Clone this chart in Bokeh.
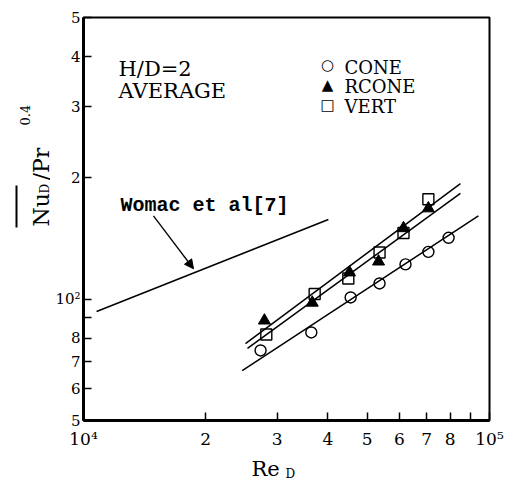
from bokeh.plotting import figure
from bokeh.layouts import row, column
from bokeh.models import Range1d, FixedTicker, Label, Arrow, NormalHead, BoxAnnotation
from bokeh.embed import file_html
from bokeh.resources import INLINE
import math

# ---- data ----
cone_re = [2.73e4, 3.64e4, 4.55e4, 5.36e4, 6.21e4, 7.07e4, 7.93e4]
cone_nu = [74.6, 82.7, 101, 109.4, 122, 131, 142]
rcone_re = [2.79e4, 3.66e4, 4.52e4, 5.33e4, 6.14e4, 7.07e4]
rcone_nu = [88.5, 98, 116.5, 124, 150, 168]
vert_re = [2.82e4, 3.71e4, 4.49e4, 5.36e4, 6.14e4, 7.07e4]
vert_nu = [81.7, 103, 112.5, 130.6, 146, 177]

cone_fit_re = [2.46e4, 9.39e4]
cone_fit_nu = [66.5, 161]
rcone_fit_re = [2.535e4, 8.48e4]
rcone_fit_nu = [75.5, 183]
vert_fit_re = [2.506e4, 8.48e4]
vert_fit_nu = [77.6, 193.6]
womac_re = [1.077e4, 4.01e4]
womac_nu = [93.2, 157.6]
arrow_re = [1.487e4, 1.866e4]
arrow_nu = [161, 119]

x_ticks = [10000, 20000, 30000, 40000, 50000, 60000, 70000, 80000, 90000, 100000]
x_tick_labels = ["10⁴", "2", "3", "4", "5", "6", "7", "8", "", "10⁵"]
y_ticks = [50, 60, 70, 80, 90, 100, 200, 300, 400, 500]
y_tick_labels = ["5", "6", "7", "8", "", "10²", "2", "3", "4", "5"]

SERIF = "DejaVu Serif"
W, H = 510, 481
YW = 50          # width of the y-label strip
XH = 30          # height of the x-label strip
MH = H - XH      # height of main figure

p = figure(width=W - YW, height=MH, x_axis_type="log", y_axis_type="log",
           x_range=Range1d(1e4, 1e5), y_range=Range1d(50, 500),
           output_backend="svg", toolbar_location=None,
           min_border_left=83 - YW, min_border_right=21, min_border_top=17,
           min_border_bottom=MH - 420)
p.xgrid.visible = False
p.ygrid.visible = False
p.outline_line_color = "black"
p.outline_line_width = 2
p.background_fill_color = "white"
p.border_fill_color = "white"

for ax, ticks, labels, standoff, fs in ((p.xaxis[0], x_ticks, x_tick_labels, 8, "17px"),
                                         (p.yaxis[0], y_ticks, y_tick_labels, 3, "15px")):
    ax.ticker = FixedTicker(ticks=ticks, minor_ticks=[])
    ax.major_label_overrides = {t: l for t, l in zip(ticks, labels)}
    ax.major_tick_in = 8
    ax.major_tick_out = 0
    ax.minor_tick_line_color = None
    ax.axis_line_width = 3
    ax.major_tick_line_width = 1.5
    ax.major_label_text_font = SERIF
    ax.major_label_text_font_size = fs
    ax.major_label_text_color = "black"
    ax.major_label_standoff = standoff

# fit lines and reference correlation
for xs, ys in ((cone_fit_re, cone_fit_nu), (rcone_fit_re, rcone_fit_nu),
               (vert_fit_re, vert_fit_nu), (womac_re, womac_nu)):
    p.line(xs, ys, line_color="black", line_width=1.5)

p.add_layout(Arrow(end=NormalHead(size=9, fill_color="black", line_color="black"),
                   x_start=arrow_re[0], y_start=arrow_nu[0],
                   x_end=arrow_re[1], y_end=arrow_nu[1],
                   line_color="black", line_width=1.3))

# data markers
p.scatter(cone_re, cone_nu, marker="circle", size=11, fill_color=None,
          line_color="black", line_width=1.4)
p.scatter(rcone_re, rcone_nu, marker="triangle", size=12, fill_color="black",
          line_color="black", line_width=1)
p.scatter(vert_re, vert_nu, marker="square", size=11, fill_color=None,
          line_color="black", line_width=1.4)


def lab(fig, ox, oy_bottom, text, cx, cy, size, font=SERIF, angle=0.0,
        align="left", baseline="alphabetic", style="normal"):
    fig.add_layout(Label(x=cx - ox, y=oy_bottom - cy, x_units="screen", y_units="screen",
                         text=text, text_font=font, text_font_size=size,
                         text_font_style=style,
                         text_color="black", angle=angle, text_align=align,
                         text_baseline=baseline))


# in-plot annotations (frame left = 83, frame bottom = 420 on the page)
lab(p, 83, 420, "H/D=2", 118, 68, "21px")
lab(p, 83, 420, "AVERAGE", 118, 90, "21px")
lab(p, 83, 420, "Womac et al[7]", 120, 205, "20px", font="Liberation Mono", style="bold")

# legend
lab(p, 83, 420, "○", 327, 64, "15px", font="DejaVu Sans", align="center", baseline="middle")
lab(p, 83, 420, "▲", 327, 84, "15px", font="DejaVu Sans", align="center", baseline="middle")
lab(p, 83, 420, "□", 327, 104, "15px", font="DejaVu Sans", align="center", baseline="middle")
lab(p, 83, 420, "CONE", 344, 67, "18px")
lab(p, 83, 420, "RCONE", 344, 86, "18px")
lab(p, 83, 420, "VERT", 344, 106, "18px")


def strip(w, h):
    f = figure(width=w, height=h, x_range=Range1d(0, w), y_range=Range1d(0, h),
               output_backend="svg", toolbar_location=None,
               x_axis_location=None, y_axis_location=None,
               min_border_left=0, min_border_right=0, min_border_top=0, min_border_bottom=0)
    f.xgrid.visible = False
    f.ygrid.visible = False
    f.outline_line_color = None
    f.background_fill_color = "white"
    f.border_fill_color = "white"
    return f


# y-axis label strip: overline(Nu_D)/Pr^0.4 rotated
yf = strip(YW, MH)
A = math.pi / 2
lab(yf, 0, MH, "Nu", 41, 257, "22px", angle=A)
lab(yf, 0, MH, "D", 44, 224, "12px", angle=A)
lab(yf, 0, MH, "/Pr", 41, 211, "22px", angle=A)
lab(yf, 0, MH, "0.4", 24, 156, "13px", angle=A)
yf.add_layout(BoxAnnotation(left=15, right=17, bottom=MH - 258, top=MH - 216,
                            left_units="screen", right_units="screen",
                            bottom_units="screen", top_units="screen",
                            fill_color="black", fill_alpha=1, line_color=None))

# x-axis label strip: Re_D
xf = strip(W, XH)
lab(xf, 0, H, "Re", 251, 468, "21px")
lab(xf, 0, H, "D", 285, 473, "12px")

layout = column(row(yf, p), xf)
open("out.html", "w").write(file_html(layout, INLINE))
